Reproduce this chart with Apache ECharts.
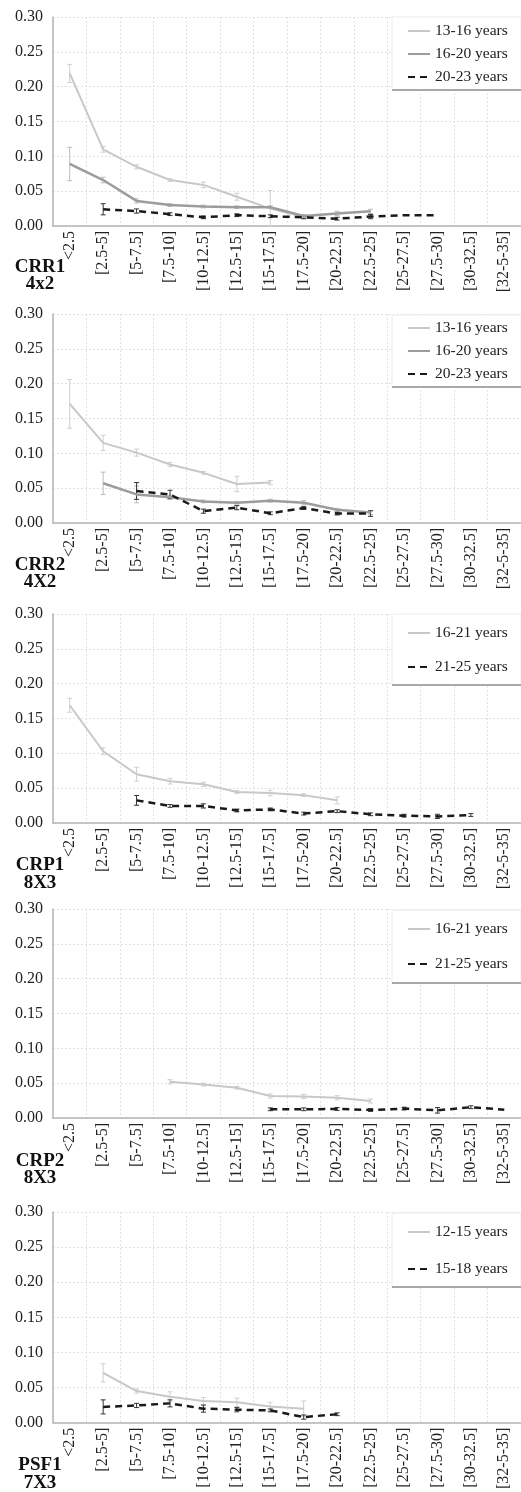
<!DOCTYPE html>
<html><head><meta charset="utf-8">
<script src="https://cdn.jsdelivr.net/npm/echarts@6/dist/echarts.min.js"></script>
<style>html,body{margin:0;padding:0;background:#fff}#c{width:521px;height:1492px}</style>
</head><body><div id="c"></div>
<script>
// ---------------- DATA ----------------
const categories = ['<2.5','[2.5-5]','[5-7.5]','[7.5-10]','[10-12.5]','[12.5-15]','[15-17.5]','[17.5-20]','[20-22.5]','[22.5-25]','[25-27.5]','[27.5-30]','[30-32.5]','[32-5-35]'];
const yTickMin = 0, yTickMax = 0.30, yTickStep = 0.05;

// Panel 1: CRR1 4x2
const crr1Names = ['13-16 years','16-20 years','20-23 years'];
const crr1_a = [0.219,0.110,0.085,0.066,0.059,0.042,0.025,0.013,null,null,null,null,null,null];
const crr1_a_err = [0.013,0.004,0.003,0.002,0.004,0.005,0.026,0.003,null,null,null,null,null,null];
const crr1_b = [0.089,0.066,0.036,0.030,0.028,0.027,0.027,0.0145,0.018,0.021,null,null,null,null];
const crr1_b_err = [0.024,0.004,0.003,0.002,0.002,0.002,0.002,0.002,0.003,0.003,null,null,null,null];
const crr1_c = [null,0.024,0.0215,0.017,0.0125,0.0155,0.014,0.0125,0.0105,0.0135,0.0155,0.0155,null,null];
const crr1_c_err = [null,0.008,0.003,0.002,0.002,0.002,0.002,0.002,0.002,0.003,null,null,null,null];

// Panel 2: CRR2 4X2
const crr2Names = ['13-16 years','16-20 years','20-23 years'];
const crr2_a = [0.171,0.115,0.101,0.084,0.072,0.056,0.058,null,null,null,null,null,null,null];
const crr2_a_err = [0.035,0.011,0.005,0.003,0.002,0.011,0.003,null,null,null,null,null,null,null];
const crr2_b = [null,0.057,0.041,0.037,0.031,0.029,0.032,0.029,0.019,0.015,null,null,null,null];
const crr2_b_err = [null,0.016,0.012,0.003,0.002,0.002,0.002,0.003,0.002,0.003,null,null,null,null];
const crr2_c = [null,null,0.046,0.041,0.017,0.022,0.014,0.0215,0.0135,0.0135,null,null,null,null];
const crr2_c_err = [null,null,0.012,0.006,0.003,0.003,0.002,0.002,0.002,0.004,null,null,null,null];

// Panel 3: CRP1 8X3
const crp1Names = ['16-21 years','21-25 years'];
const crp1_a = [0.169,0.103,0.070,0.060,0.0555,0.0445,0.043,0.040,0.0325,null,null,null,null,null];
const crp1_a_err = [0.010,0.005,0.010,0.004,0.003,0.002,0.004,0.002,0.005,null,null,null,null,null];
const crp1_b = [null,null,0.0325,0.0245,0.0245,0.018,0.0195,0.0135,0.017,0.0125,0.0105,0.0095,0.0115,null];
const crp1_b_err = [null,null,0.007,0.002,0.003,0.002,0.002,0.002,0.002,0.002,0.002,0.003,0.002,null];

// Panel 4: CRP2 8X3
const crp2Names = ['16-21 years','21-25 years'];
const crp2_a = [null,null,null,0.052,0.048,0.0435,0.0315,0.031,0.029,0.0245,null,null,null,null];
const crp2_a_err = [null,null,null,0.003,0.002,0.002,0.003,0.003,0.003,0.003,null,null,null,null];
const crp2_b = [null,null,null,null,null,null,0.0125,0.0125,0.013,0.0115,0.0135,0.011,0.0155,0.012];
const crp2_b_err = [null,null,null,null,null,null,0.002,0.002,0.002,0.002,0.002,0.004,0.002,null];

// Panel 5: PSF1 7X3
const psf1Names = ['12-15 years','15-18 years'];
const psf1_a = [null,0.071,0.045,0.037,0.031,0.029,0.023,0.020,null,null,null,null,null,null];
const psf1_a_err = [null,0.013,0.003,0.007,0.005,0.006,0.006,0.011,null,null,null,null,null,null];
const psf1_b = [null,0.0225,0.0245,0.0275,0.020,0.0185,0.0175,0.008,0.012,null,null,null,null,null];
const psf1_b_err = [null,0.010,0.003,0.005,0.005,0.003,0.002,0.003,0.002,null,null,null,null,null];

// ---------------- STYLE / LAYOUT ----------------
const FONT = '"Liberation Serif","Times New Roman",serif';
const LIGHT = {color:'#c8c8c8', width:2, type:'solid', err:'#cfcfcf'};
const MID = {color:'#9c9c9c', width:2.5, type:'solid', err:'#bdbdbd'};
const DASH = {color:'#1a1a1a', width:2.5, type:[7,5], err:'#333'};

const panels = [
  {label:['CRR1','4x2'], top:17, height:209, labelY:[267,284], legTop:23, legGap:7, box:[17,73],
   series:[[crr1Names[0],crr1_a,crr1_a_err,LIGHT],[crr1Names[1],crr1_b,crr1_b_err,MID],[crr1Names[2],crr1_c,crr1_c_err,DASH]]},
  {label:['CRR2','4X2'], top:314, height:209, labelY:[565,582], legTop:320, legGap:7, box:[315,72],
   series:[[crr2Names[0],crr2_a,crr2_a_err,LIGHT],[crr2Names[1],crr2_b,crr2_b_err,MID],[crr2Names[2],crr2_c,crr2_c_err,DASH]]},
  {label:['CRP1','8X3'], top:614, height:209, labelY:[865,883], legTop:625, legGap:18, box:[614,71],
   series:[[crp1Names[0],crp1_a,crp1_a_err,LIGHT],[crp1Names[1],crp1_b,crp1_b_err,DASH]]},
  {label:['CRP2','8X3'], top:909, height:209, labelY:[1161,1178], legTop:921, legGap:19, box:[910,73],
   series:[[crp2Names[0],crp2_a,crp2_a_err,LIGHT],[crp2Names[1],crp2_b,crp2_b_err,DASH]]},
  {label:['PSF1','7X3'], top:1212, height:211, labelY:[1465,1483], legTop:1224, legGap:21, box:[1213,74],
   series:[[psf1Names[0],psf1_a,psf1_a_err,LIGHT],[psf1Names[1],psf1_b,psf1_b_err,DASH]]}
];

function errRenderer(color){
  return function(params, api){
    const x = api.value(0), lo = api.value(1), hi = api.value(2);
    const p1 = api.coord([x, lo]), p2 = api.coord([x, hi]);
    const w = 2.5;
    const style = {stroke: color, lineWidth: 1};
    return {type:'group', children:[
      {type:'line', shape:{x1:p1[0],y1:p1[1],x2:p2[0],y2:p2[1]}, style},
      {type:'line', shape:{x1:p1[0]-w,y1:p1[1],x2:p1[0]+w,y2:p1[1]}, style},
      {type:'line', shape:{x1:p2[0]-w,y1:p2[1],x2:p2[0]+w,y2:p2[1]}, style}
    ]};
  };
}

const grid=[], xAxis=[], yAxis=[], series=[], legend=[], graphic=[];
panels.forEach((p,i)=>{
  grid.push({left:53, right:0, top:p.top, height:p.height, containLabel:false});
  xAxis.push({type:'category', gridIndex:i, data:categories, boundaryGap:true,
    axisLine:{show:true, lineStyle:{color:'#b5b5b5', width:1.5}}, axisTick:{show:false},
    axisLabel:{rotate:90, interval:0, margin:5, fontFamily:FONT, fontSize:16, color:'#222'},
    splitLine:{show:true, interval:0, lineStyle:{color:'#e2e2e2', type:[2,2], width:1}}});
  yAxis.push({type:'value', gridIndex:i, min:yTickMin, max:yTickMax, interval:yTickStep,
    axisLine:{show:true, lineStyle:{color:'#b5b5b5', width:1.5}}, axisTick:{show:false},
    axisLabel:{margin:10, fontFamily:FONT, fontSize:16, color:'#222', formatter:v=>v.toFixed(2)},
    splitLine:{show:true, lineStyle:{color:'#e2e2e2', type:[2,2], width:1}}});
  p.series.forEach(s=>{
    const [name, vals, errs, st] = s;
    series.push({type:'line', name, xAxisIndex:i, yAxisIndex:i, data:vals, symbol:'none',
      connectNulls:false, silent:true, animation:false, z:3,
      lineStyle:{color:st.color, width:st.width, type:st.type}, itemStyle:{color:st.color}});
    const ed = [];
    vals.forEach((v,k)=>{ if(v!=null && errs[k]!=null) ed.push([k, Math.max(0, v-errs[k]), v+errs[k]]); });
    series.push({type:'custom', xAxisIndex:i, yAxisIndex:i, data:ed, renderItem:errRenderer(st.err),
      silent:true, animation:false, z:2, encode:{x:0, y:[1,2]}});
  });
  legend.push({data:p.series.map(s=>s[0]), orient:'vertical', left:407, top:p.legTop, itemGap:p.legGap,
    itemWidth:22, itemHeight:14, selectedMode:false, z:10, padding:0,
    itemStyle:{opacity:0, borderWidth:0},
    textStyle:{fontFamily:FONT, fontSize:15.5, color:'#222', lineHeight:16}});
  graphic.push({type:'rect', shape:{x:392, y:p.box[0], width:129, height:p.box[1]}, z:5,
    style:{fill:'#fff', stroke:'#ececec', lineWidth:1}});
  graphic.push({type:'line', shape:{x1:392, y1:p.box[0]+p.box[1], x2:521, y2:p.box[0]+p.box[1]}, z:5,
    style:{stroke:'#a8a8a8', lineWidth:2}});
  graphic.push({type:'text', x:40, y:p.labelY[0], z:6, style:{text:p.label[0], fontFamily:FONT, fontSize:19, fontWeight:'bold', fill:'#111', align:'center', verticalAlign:'middle'}});
  graphic.push({type:'text', x:40, y:p.labelY[1], z:6, style:{text:p.label[1], fontFamily:FONT, fontSize:19, fontWeight:'bold', fill:'#111', align:'center', verticalAlign:'middle'}});
});

const chart = echarts.init(document.getElementById('c'), null, {renderer:'canvas'});
chart.setOption({animation:false, backgroundColor:'#fff', grid, xAxis, yAxis, series, legend, graphic});
</script>
</body></html>
